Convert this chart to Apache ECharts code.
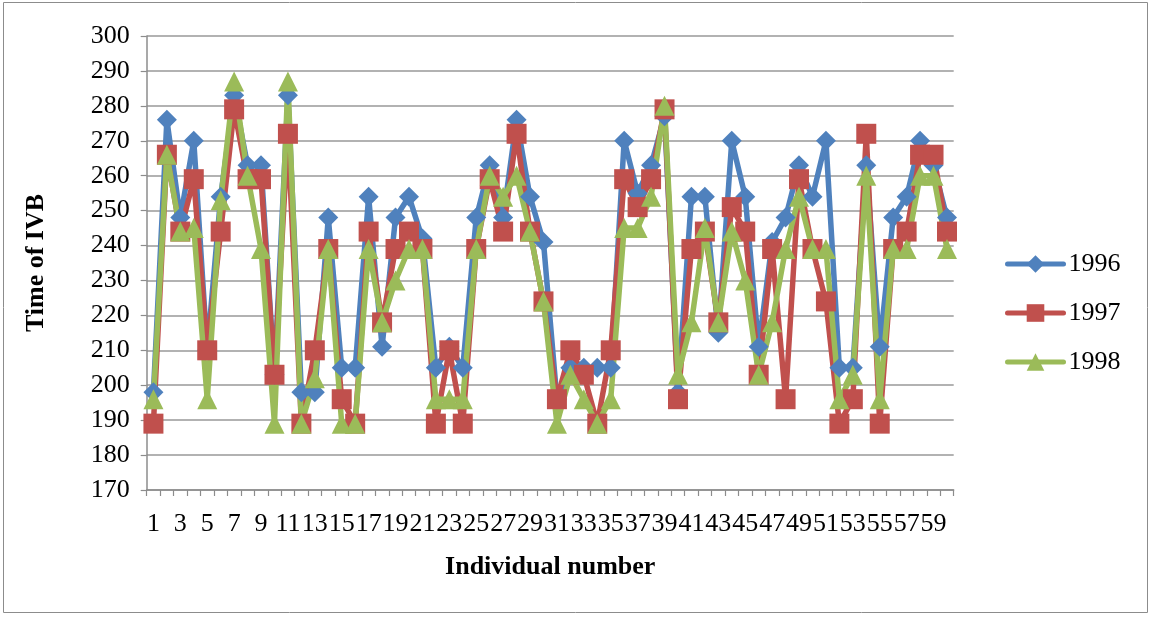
<!DOCTYPE html>
<html>
<head>
<meta charset="utf-8">
<script src="https://cdn.jsdelivr.net/npm/echarts@6/dist/echarts.min.js"></script>
<style>
html,body{margin:0;padding:0;background:#fff;}
#chart{width:1151px;height:617px;}
</style>
</head>
<body>
<div id="chart"></div>
<script>
const categories = [];
for (let i = 1; i <= 60; i++) categories.push(String(i));

const seriesNames = ['1996', '1997', '1998'];

const values1996 = [198,276,248,270,210,254,283,263,263,203,
                    283,198,198,248,205,205,254,211,248,254,
                    242,205,211,205,248,263,248,276,254,241,
                    196,205,205,205,205,270,255,263,277,198,
                    254,254,215,270,254,211,241,248,263,254,
                    270,205,205,263,211,248,254,270,263,248];

const values1997 = [189,266,244,259,210,244,279,259,259,203,
                    272,189,210,239,196,189,244,218,239,244,
                    239,189,210,189,239,259,244,272,244,224,
                    196,210,203,189,210,259,251,259,279,196,
                    239,244,218,251,244,203,239,196,259,239,
                    224,189,196,272,189,239,244,266,266,244];

const values1998 = [196,266,244,245,196,253,287,260,239,189,
                    287,189,202,239,189,189,239,218,230,239,
                    239,196,196,196,239,260,254,260,244,224,
                    189,203,196,189,196,245,245,254,280,203,
                    218,245,218,244,230,203,218,239,254,239,
                    239,196,203,260,196,239,239,260,260,239];

const yMin = 170, yMax = 300, yStep = 10;

const colors = ['#4F81BD', '#C0504D', '#9BBB59'];
const symbols = ['diamond', 'rect', 'triangle'];
const allValues = [values1996, values1997, values1998];
const FONT = '"Liberation Serif", "Times New Roman", serif';

const chart = echarts.init(document.getElementById('chart'), null, {renderer: 'canvas'});

const series = seriesNames.map((name, k) => ({
  name: name,
  type: 'line',
  data: allValues[k],
  symbol: symbols[k],
  symbolSize: 20,
  showAllSymbol: true,
  animation: false,
  lineStyle: {color: colors[k], width: 5.5, cap: 'round', join: 'round'},
  itemStyle: {color: colors[k], opacity: 1},
  emphasis: {disabled: true}
}));

chart.setOption({
  animation: false,
  color: colors,
  textStyle: {fontFamily: FONT, color: '#000'},
  graphic: [{
    type: 'rect',
    shape: {x: 3.5, y: 2.5, width: 1144, height: 610},
    style: {fill: 'none', stroke: '#8c8c8c', lineWidth: 1},
    silent: true
  }],
  grid: {left: 146.7, right: 197.3, top: 36, bottom: 127, containLabel: false},
  legend: {
    orient: 'vertical',
    left: 1005,
    top: 251,
    padding: 0,
    itemWidth: 56,
    itemHeight: 22,
    itemGap: 23,
    data: seriesNames,
    lineStyle: {width: 5, cap: 'round'},
    textStyle: {fontFamily: FONT, fontSize: 26, color: '#000'}
  },
  xAxis: {
    type: 'category',
    data: categories,
    boundaryGap: true,
    name: 'Individual number',
    nameLocation: 'middle',
    nameGap: 64,
    nameTextStyle: {fontFamily: FONT, fontSize: 26, fontWeight: 'bold', color: '#000'},
    axisLine: {show: true, lineStyle: {color: '#8c8c8c', width: 1.5}},
    axisTick: {show: true, interval: 0, length: 6, inside: false, alignWithLabel: false, lineStyle: {color: '#8c8c8c', width: 1.2}},
    axisLabel: {interval: 1, margin: 21, fontFamily: FONT, fontSize: 26, color: '#000'},
    splitLine: {show: false}
  },
  yAxis: {
    type: 'value',
    min: yMin,
    max: yMax,
    interval: yStep,
    name: 'Time of IVB',
    nameLocation: 'middle',
    nameGap: 97,
    nameRotate: 90,
    nameTextStyle: {fontFamily: FONT, fontSize: 26, fontWeight: 'bold', color: '#000'},
    axisLine: {show: true, lineStyle: {color: '#8c8c8c', width: 1.5}},
    axisTick: {show: true, length: 6, inside: false, lineStyle: {color: '#8c8c8c', width: 1.2}},
    axisLabel: {margin: 17, fontFamily: FONT, fontSize: 26, color: '#000'},
    splitLine: {show: true, lineStyle: {color: '#999999', width: 1.5}}
  },
  series: series
});
</script>
</body>
</html>
